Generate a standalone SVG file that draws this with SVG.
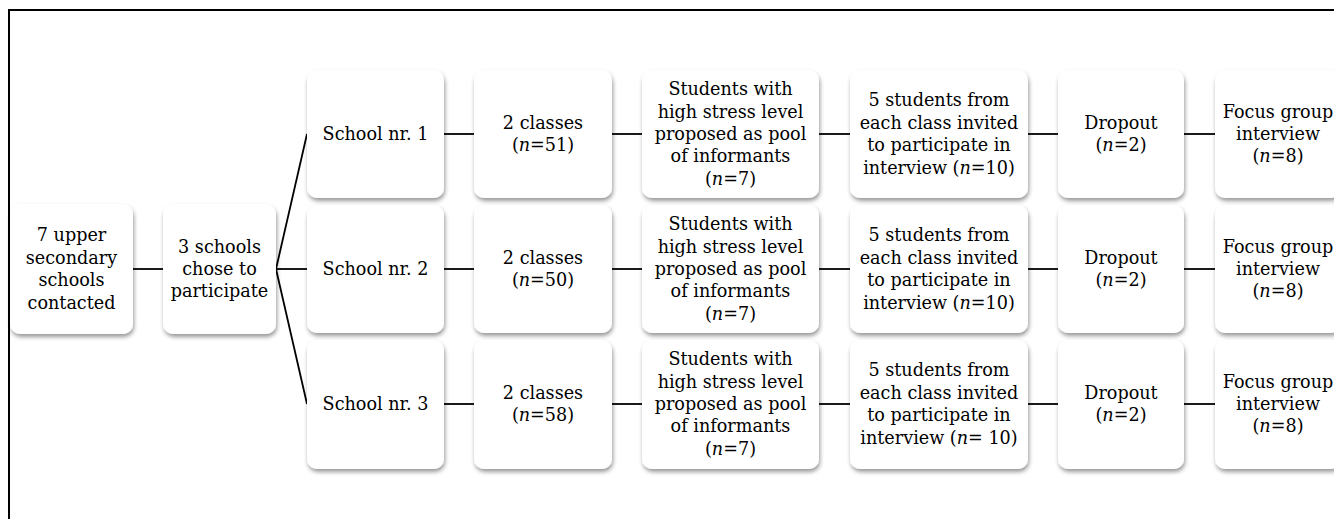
<svg xmlns="http://www.w3.org/2000/svg" width="1334" height="519" viewBox="0 0 1334 519">
<defs>
<filter id="sh" x="-10%" y="-10%" width="125%" height="125%">
<feDropShadow dx="1" dy="3" stdDeviation="2" flood-color="#000" flood-opacity="0.4"/>
</filter>
<style>
.box{fill:#fff;filter:url(#sh)}
text{font-family:"DejaVu Serif","Liberation Serif",serif;font-size:17.6px;fill:#000;text-anchor:middle}
.i{font-style:italic}
.c{stroke:#000;stroke-width:1.8;fill:none}
.frame{stroke:#000;stroke-width:2;fill:none}
</style>
</defs>
<rect width="1334" height="519" fill="#fff"/>
<path class="frame" d="M9,530 V10 H1345"/>
<g id="connectors">
<line class="c" x1="133" y1="269" x2="163" y2="269"/>
<line class="c" x1="276" y1="269" x2="307" y2="134"/>
<line class="c" x1="276" y1="269" x2="307" y2="269"/>
<line class="c" x1="276" y1="269" x2="307" y2="404"/>
<line class="c" x1="444" y1="134" x2="474" y2="134"/>
<line class="c" x1="612" y1="134" x2="642" y2="134"/>
<line class="c" x1="819" y1="134" x2="850" y2="134"/>
<line class="c" x1="1028" y1="134" x2="1058" y2="134"/>
<line class="c" x1="1184" y1="134" x2="1215" y2="134"/>
<line class="c" x1="444" y1="269" x2="474" y2="269"/>
<line class="c" x1="612" y1="269" x2="642" y2="269"/>
<line class="c" x1="819" y1="269" x2="850" y2="269"/>
<line class="c" x1="1028" y1="269" x2="1058" y2="269"/>
<line class="c" x1="1184" y1="269" x2="1215" y2="269"/>
<line class="c" x1="444" y1="404" x2="474" y2="404"/>
<line class="c" x1="612" y1="404" x2="642" y2="404"/>
<line class="c" x1="819" y1="404" x2="850" y2="404"/>
<line class="c" x1="1028" y1="404" x2="1058" y2="404"/>
<line class="c" x1="1184" y1="404" x2="1215" y2="404"/>
</g>
<g id="n-contacted">
<rect class="box" x="10" y="204" width="123" height="130" rx="10"/>
<text x="71.5" y="241.4">7 upper</text>
<text x="71.5" y="263.8">secondary</text>
<text x="71.5" y="286.2">schools</text>
<text x="71.5" y="308.6">contacted</text>
</g>
<g id="n-chose">
<rect class="box" x="163" y="204" width="113" height="130" rx="10"/>
<text x="219.5" y="252.6">3 schools</text>
<text x="219.5" y="275">chose to</text>
<text x="219.5" y="297.4">participate</text>
</g>
<g id="n-school1">
<rect class="box" x="307" y="70" width="137" height="128" rx="10"/>
<text x="375.5" y="140">School nr. 1</text>
</g>
<g id="n-school2">
<rect class="box" x="307" y="205" width="137" height="128" rx="10"/>
<text x="375.5" y="275">School nr. 2</text>
</g>
<g id="n-school3">
<rect class="box" x="307" y="340" width="137" height="129" rx="10"/>
<text x="375.5" y="410">School nr. 3</text>
</g>
<g id="n-classes1">
<rect class="box" x="474" y="70" width="138" height="128" rx="10"/>
<text x="543" y="128.8">2 classes</text>
<text x="543" y="151.2">(<tspan class="i">n</tspan>=51)</text>
</g>
<g id="n-classes2">
<rect class="box" x="474" y="205" width="138" height="128" rx="10"/>
<text x="543" y="263.8">2 classes</text>
<text x="543" y="286.2">(<tspan class="i">n</tspan>=50)</text>
</g>
<g id="n-classes3">
<rect class="box" x="474" y="340" width="138" height="129" rx="10"/>
<text x="543" y="398.8">2 classes</text>
<text x="543" y="421.2">(<tspan class="i">n</tspan>=58)</text>
</g>
<g id="n-pool1">
<rect class="box" x="642" y="70" width="177" height="128" rx="10"/>
<text x="730.5" y="95.2">Students with</text>
<text x="730.5" y="117.6">high stress level</text>
<text x="730.5" y="140">proposed as pool</text>
<text x="730.5" y="162.4">of informants</text>
<text x="730.5" y="184.8">(<tspan class="i">n</tspan>=7)</text>
</g>
<g id="n-pool2">
<rect class="box" x="642" y="205" width="177" height="128" rx="10"/>
<text x="730.5" y="230.2">Students with</text>
<text x="730.5" y="252.6">high stress level</text>
<text x="730.5" y="275">proposed as pool</text>
<text x="730.5" y="297.4">of informants</text>
<text x="730.5" y="319.8">(<tspan class="i">n</tspan>=7)</text>
</g>
<g id="n-pool3">
<rect class="box" x="642" y="340" width="177" height="129" rx="10"/>
<text x="730.5" y="365.2">Students with</text>
<text x="730.5" y="387.6">high stress level</text>
<text x="730.5" y="410">proposed as pool</text>
<text x="730.5" y="432.4">of informants</text>
<text x="730.5" y="454.8">(<tspan class="i">n</tspan>=7)</text>
</g>
<g id="n-invited1">
<rect class="box" x="850" y="70" width="178" height="128" rx="10"/>
<text x="939" y="106.4">5 students from</text>
<text x="939" y="128.8">each class invited</text>
<text x="939" y="151.2">to participate in</text>
<text x="939" y="173.6">interview (<tspan class="i">n</tspan>=10)</text>
</g>
<g id="n-invited2">
<rect class="box" x="850" y="205" width="178" height="128" rx="10"/>
<text x="939" y="241.4">5 students from</text>
<text x="939" y="263.8">each class invited</text>
<text x="939" y="286.2">to participate in</text>
<text x="939" y="308.6">interview (<tspan class="i">n</tspan>=10)</text>
</g>
<g id="n-invited3">
<rect class="box" x="850" y="340" width="178" height="129" rx="10"/>
<text x="939" y="376.4">5 students from</text>
<text x="939" y="398.8">each class invited</text>
<text x="939" y="421.2">to participate in</text>
<text x="939" y="443.6">interview (<tspan class="i">n</tspan>= 10)</text>
</g>
<g id="n-dropout1">
<rect class="box" x="1058" y="70" width="126" height="128" rx="10"/>
<text x="1121" y="128.8">Dropout</text>
<text x="1121" y="151.2">(<tspan class="i">n</tspan>=2)</text>
</g>
<g id="n-dropout2">
<rect class="box" x="1058" y="205" width="126" height="128" rx="10"/>
<text x="1121" y="263.8">Dropout</text>
<text x="1121" y="286.2">(<tspan class="i">n</tspan>=2)</text>
</g>
<g id="n-dropout3">
<rect class="box" x="1058" y="340" width="126" height="129" rx="10"/>
<text x="1121" y="398.8">Dropout</text>
<text x="1121" y="421.2">(<tspan class="i">n</tspan>=2)</text>
</g>
<g id="n-focus1">
<rect class="box" x="1215" y="70" width="126" height="128" rx="10"/>
<text x="1278" y="117.6">Focus group</text>
<text x="1278" y="140">interview</text>
<text x="1278" y="162.4">(<tspan class="i">n</tspan>=8)</text>
</g>
<g id="n-focus2">
<rect class="box" x="1215" y="205" width="126" height="128" rx="10"/>
<text x="1278" y="252.6">Focus group</text>
<text x="1278" y="275">interview</text>
<text x="1278" y="297.4">(<tspan class="i">n</tspan>=8)</text>
</g>
<g id="n-focus3">
<rect class="box" x="1215" y="340" width="126" height="129" rx="10"/>
<text x="1278" y="387.6">Focus group</text>
<text x="1278" y="410">interview</text>
<text x="1278" y="432.4">(<tspan class="i">n</tspan>=8)</text>
</g>
</svg>
